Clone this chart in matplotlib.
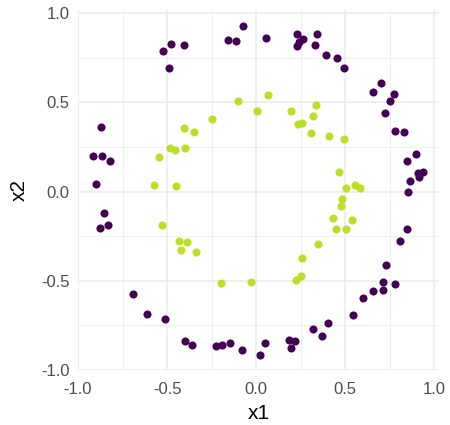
import matplotlib
matplotlib.use("Agg")
import matplotlib.pyplot as plt
import numpy as np

# outer ring (class 0)
outer_x1 = [-0.071, -0.155, -0.114, -0.524, -0.476, -0.406, -0.491, -0.871, -0.914, -0.867,
            -0.822, -0.901,
            0.054, 0.230, 0.266, 0.243, 0.229, 0.341, 0.333, 0.391, 0.457, 0.496,
            0.702, 0.655, 0.773, 0.753, 0.725, 0.781, 0.830, 0.897, 0.846, 0.936,
            0.912, 0.914, 0.867, 0.856,
            -0.854, -0.878, -0.830, -0.693, -0.612, -0.513, -0.397, -0.360, -0.223,
            -0.191, -0.144, -0.077, 0.025,
            0.850, 0.811, 0.732, 0.712, 0.779, 0.713, 0.655, 0.601, 0.545, 0.404,
            0.318, 0.373, 0.183, 0.217, 0.197, 0.049]
outer_x2 = [0.929, 0.847, 0.841, 0.789, 0.824, 0.819, 0.694, 0.361, 0.199, 0.199,
            0.171, 0.044,
            0.858, 0.882, 0.854, 0.839, 0.813, 0.884, 0.819, 0.765, 0.746, 0.694,
            0.610, 0.556, 0.545, 0.509, 0.442, 0.341, 0.333, 0.208, 0.173, 0.108,
            0.102, 0.080, 0.059, -0.003,
            -0.119, -0.204, -0.190, -0.574, -0.686, -0.714, -0.836, -0.858, -0.867,
            -0.858, -0.849, -0.886, -0.914,
            -0.208, -0.279, -0.410, -0.505, -0.518, -0.552, -0.559, -0.597, -0.692, -0.737,
            -0.772, -0.810, -0.832, -0.836, -0.875, -0.849]

# inner ring (class 1)
inner_x1 = [-0.103, 0.004, -0.247, -0.403, -0.347, -0.481, -0.453, -0.399, -0.545, -0.573,
            -0.451,
            0.069, 0.198, 0.335, 0.320, 0.238, 0.258, 0.309, 0.408, 0.493, 0.464,
            0.507, 0.554, 0.584,
            -0.530, -0.433, -0.388, -0.421, -0.335, -0.197, -0.028,
            0.485, 0.476, 0.433, 0.541, 0.448, 0.504, 0.346, 0.257, 0.253, 0.223]
inner_x2 = [0.505, 0.453, 0.408, 0.354, 0.335, 0.245, 0.231, 0.245, 0.193, 0.035,
            0.029,
            0.542, 0.451, 0.485, 0.423, 0.378, 0.385, 0.328, 0.313, 0.296, 0.108,
            0.021, 0.035, 0.021,
            -0.186, -0.277, -0.285, -0.328, -0.339, -0.514, -0.509,
            -0.044, -0.081, -0.150, -0.158, -0.208, -0.208, -0.296, -0.373, -0.472, -0.496]

plt.rcParams['font.family'] = ['Liberation Sans', 'DejaVu Sans']

fig = plt.figure(figsize=(4.5, 4.25), dpi=100)
ax = fig.add_axes([78/450, 1 - 370/425, (439 - 78)/450, (370 - 10)/425])

ax.scatter(outer_x1, outer_x2, s=34, color='#440154', linewidths=0, zorder=3)
ax.scatter(inner_x1, inner_x2, s=34, color='#BBDF27', linewidths=0, zorder=3)

ax.set_xlim(-1.0, 1.028)
ax.set_ylim(-1.0, 1.017)
ticks = [-1.0, -0.5, 0.0, 0.5, 1.0]
ax.set_xticks(ticks)
ax.set_yticks(ticks)
ax.set_xticklabels(['-1.0', '-0.5', '0.0', '0.5', '1.0'])
ax.set_yticklabels(['-1.0', '-0.5', '0.0', '0.5', '1.0'])
ax.set_xticks(np.arange(-0.75, 1.0, 0.5), minor=True)
ax.set_yticks(np.arange(-0.75, 1.0, 0.5), minor=True)
ax.grid(which='major', color='#EBEBEB', linewidth=1.1)
ax.grid(which='minor', color='#EBEBEB', linewidth=0.55)
ax.set_axisbelow(True)
for sp in ax.spines.values():
    sp.set_visible(False)
ax.tick_params(which='both', length=0, labelsize=12, labelcolor='#4D4D4D')
ax.tick_params(axis='x', pad=9)
ax.tick_params(axis='y', pad=6)

ax.set_xlabel('x1', fontsize=15, color='black', labelpad=5)
ax.set_ylabel('x2', fontsize=15, color='black', labelpad=9)

fig.savefig('out.png', dpi=100)
